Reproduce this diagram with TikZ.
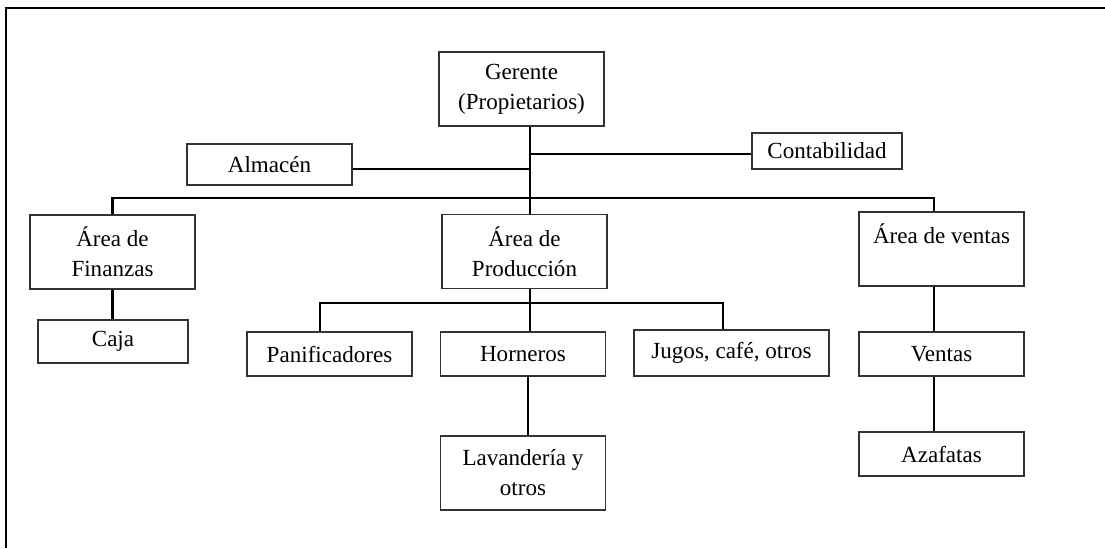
\documentclass[tikz,border=0pt]{standalone}
\usepackage{fontspec}
\setmainfont{Liberation Serif}

\begin{document}
\begin{tikzpicture}[x=0.025cm, y=-0.025cm,
    box/.style={draw=black!80, line width=0.8pt, align=center, inner sep=0pt,
                minimum width=4.125cm, font=\fontsize{16.4}{21.3}\selectfont},
    tall/.style={box, minimum height=1.85cm},
    flat/.style={box, minimum height=1.1cm},
    link/.style={line width=1.6pt}]

\useasboundingbox (0,0) rectangle (1105,548);
% frame (cut at right and bottom)
\draw[line width=1.4pt] (6,548) -- (6,8) -- (1105,8);

% top level
\node[tall] (gerente) at (521.5,89) {Gerente\\(Propietarios)};
\node[box, minimum height=1.025cm] (almacen) at (269.5,164.5) {Almacén};
\node[box, minimum width=3.75cm, minimum height=0.9cm] (contab) at (827,151) {Contabilidad};

% areas
\node[tall] (finanzas) at (112.5,252) {Área de\\Finanzas};
\node[tall] (produccion) at (524.5,251.5) {Área de\\Producción};
\node[tall] (areaventas) at (941.5,249) {Área de ventas\\~};

% sub units
\node[box, minimum width=3.75cm, minimum height=1.075cm] (caja) at (113,341.5) {Caja};
\node[flat] (panif) at (329.5,354) {Panificadores};
\node[flat] (horneros) at (523,354) {Horneros};
\node[box, minimum width=4.875cm, minimum height=1.15cm] (jugos) at (731.5,353) {Jugos, café, otros};
\node[tall] (lavanderia) at (523,473) {Lavandería y\\otros};
\node[flat] (ventas) at (941.5,354) {Ventas};
\node[flat] (azafatas) at (941.5,454) {Azafatas};

% junction points
\coordinate (tx) at (530,198);
\coordinate (almj) at (530,169);
\coordinate (conj) at (530,154);
\coordinate (vx) at (934,198);
\coordinate (px) at (530,303);
\coordinate (pl) at (320,303);
\coordinate (pr) at (723,303);
\coordinate (lx) at (528,400);

\draw[link] (gerente.south -| tx) -- (produccion.north -| tx);
\draw[link] (almacen.east |- almj) -- (almj);
\draw[link] (conj) -- (contab.west |- conj);
\draw[link] (finanzas.north) |- (vx) -- (areaventas.north -| vx);
\draw[link] (finanzas.south) -- (caja.north -| finanzas.south);
\draw[link] (produccion.south -| px) -- (horneros.north -| px);
\draw[link] (panif.north -| pl) |- (pr) -- (jugos.north -| pr);
\draw[link] (horneros.south -| lx) -- (lavanderia.north -| lx);
\draw[link] (areaventas.south -| vx) -- (ventas.north -| vx);
\draw[link] (ventas.south -| vx) -- (azafatas.north -| vx);
\end{tikzpicture}
\end{document}
